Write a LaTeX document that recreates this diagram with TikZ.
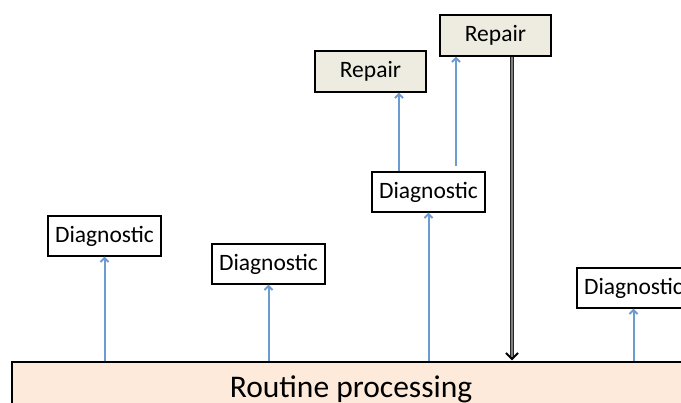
\documentclass[tikz,border=0pt]{standalone}
\usepackage{fontspec}
\setmainfont{Carlito}
\usetikzlibrary{arrows.meta}
\definecolor{flowblue}{RGB}{108,155,208}
\definecolor{repairfill}{RGB}{238,236,225}
\definecolor{routinefill}{RGB}{253,234,218}
\tikzset{
    diagbox/.style={rectangle, draw, line width=1.2pt, fill=white, font=\fontsize{23.5}{28}\selectfont,
        minimum width=113pt, minimum height=40pt, inner xsep=0pt},
    repairbox/.style={diagbox, fill=repairfill, minimum width=111pt, minimum height=41pt},
    flow/.style={->, draw=flowblue, line width=2pt},
    backflow/.style={-{Straight Barb[length=6pt, width=12pt, line width=2pt, black, sep=0pt]},
        draw=black!85, line width=1.2pt, double=gray, double distance=2.2pt, shorten >=1pt}
}
\begin{document}
\begin{tikzpicture}[x=1pt, y=-1pt, >={Straight Barb[length=4pt,width=8pt]}]
        \clip (0,0) rectangle (681,403);
        \node [rectangle, draw, line width=1.2pt, fill=routinefill, font=\fontsize{31.5}{38}\selectfont,
            minimum width=678pt, minimum height=54pt, name=routine] at (351, 389) {Routine processing};
        \node [diagbox, name=d1] at (104.5, 236) {Diagnostic};
        \node [diagbox, name=d2] at (268.5, 264) {Diagnostic};
        \node [diagbox, name=d3] at (428.5, 192) {Diagnostic};
        \node [diagbox, name=d4] at (633.5, 288) {Diagnostic};
        \node [repairbox, name=r1] at (370.5, 71.5) {Repair};
        \node [repairbox, name=r2] at (495.5, 35.5) {Repair};
        % routine processing up to the diagnostics
        \draw [flow] (d1 |- routine.north) -- (d1.south);
        \draw [flow] (d2 |- routine.north) -- (d2.south);
        \draw [flow] (d3 |- routine.north) -- (d3.south);
        \draw [flow] (d4 |- routine.north) -- (d4.south);
        % diagnostic to repairs
        \draw [flow] ([xshift=-29.5pt]d3.north) -- ([xshift=-29.5pt]d3.north |- r1.south);
        \draw [flow] ([xshift=27.5pt, yshift=5pt]d3.north) -- ([xshift=27.5pt]d3.north |- r2.south);
        % back to routine
        \draw [backflow] ([xshift=16.5pt]r2.south) -- ([xshift=16.5pt]r2.south |- routine.north);
    \end{tikzpicture}
\end{document}
